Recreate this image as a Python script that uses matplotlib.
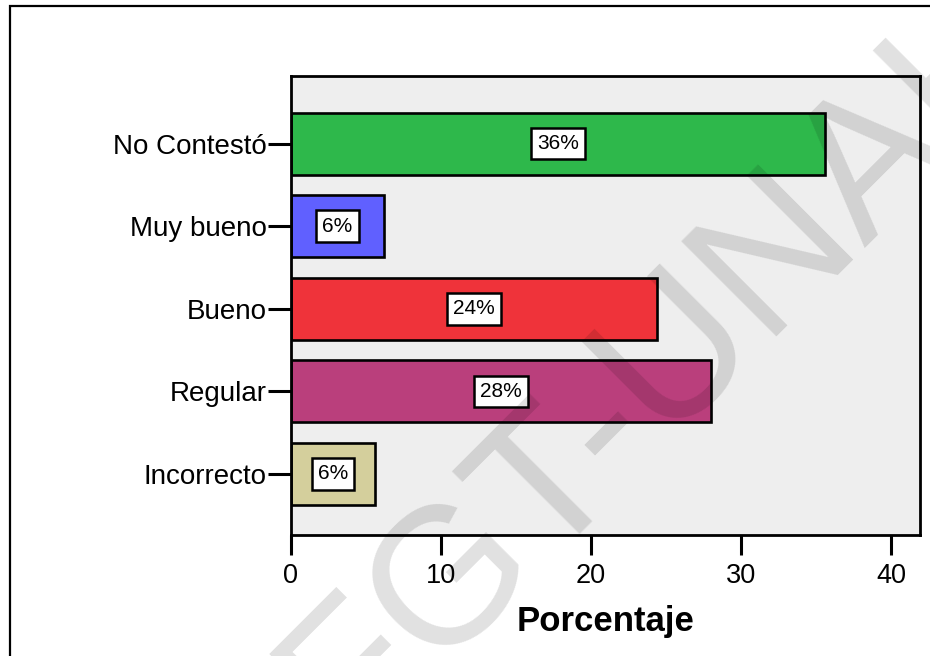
import matplotlib
matplotlib.use("Agg")

import matplotlib.pyplot as plt
from matplotlib.patches import Rectangle

plt.rcParams['font.family'] = ['Liberation Sans', 'DejaVu Sans']

# categorias (de abajo hacia arriba) y porcentajes
categorias = ["Incorrecto", "Regular", "Bueno", "Muy bueno", "No Contestó"]
porcentajes = [5.6, 28.0, 24.4, 6.2, 35.6]
colores = ["#D4CF9C", "#BA3F7C", "#EF333A", "#6060FF", "#2EB84B"]
xticks = [0, 10, 20, 30, 40]

fig = plt.figure(figsize=(9.3, 6.56), dpi=100)
ax = fig.add_axes([0.3129, 0.1845, 0.6763, 0.6997])
ax.set_facecolor("#EEEEEE")

pos = list(range(len(categorias)))
ax.barh(pos, porcentajes, height=0.75, color=colores, edgecolor="black", linewidth=1.9, zorder=2)

# etiquetas de porcentaje dentro de cada barra
for y, v in zip(pos, porcentajes):
    ax.text(v / 2, y, "%.0f%%" % v, ha="center", va="center", fontsize=15, zorder=3,
            bbox=dict(boxstyle="square,pad=0.3", facecolor="white", edgecolor="black", linewidth=1.8))

ax.set_xlim(0, 41.93)
ax.set_ylim(-0.74, 4.82)
ax.set_yticks(pos)
ax.set_yticklabels(categorias, fontsize=20)
ax.set_xticks(xticks)
ax.set_xticklabels([str(t) for t in xticks], fontsize=19.5)
ax.tick_params(axis="y", length=16.5, width=2.2, pad=1)
ax.tick_params(axis="x", length=14.5, width=2.2, pad=6)
for s in ax.spines.values():
    s.set_linewidth(2.0)

ax.set_xlabel("Porcentaje", fontsize=25, fontweight="bold", labelpad=11)

# marco exterior
fig.patches.append(Rectangle((10 / 930, -0.2), 1.2, 0.9909 + 0.2, transform=fig.transFigure,
                             fill=False, edgecolor="black", linewidth=1.6))

# marca de agua
fig.text(0.7527, 0.3948, "FGT-UNAH", rotation=45, rotation_mode="anchor", ha="center", va="baseline",
         fontsize=140, color="black", alpha=0.12, zorder=10)

plt.savefig("out.png", dpi=100)
plt.close()
